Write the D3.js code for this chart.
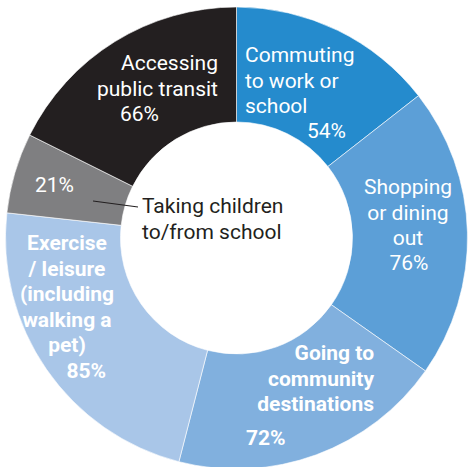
<!DOCTYPE html>
<html>
<head>
<meta charset="utf-8">
<script src="https://cdn.jsdelivr.net/npm/d3@7"></script>
<style>
  html, body { margin: 0; padding: 0; background: #ffffff; }
  svg { display: block; }
</style>
</head>
<body>
<svg id="chart" width="469" height="467"></svg>
<script>
// Trip purposes, clockwise from 12 o'clock
const categories = [
  "Commuting to work or school",
  "Shopping or dining out",
  "Going to community destinations",
  "Exercise / leisure (including walking a pet)",
  "Taking children to/from school",
  "Accessing public transit"
];
const values = [54, 76, 72, 85, 21, 66];
const colors = ["#258bcd", "#5c9fd7", "#81b0de", "#a9c6e8", "#7f7f81", "#231f20"];

// Text lines drawn for each slice (the percentage is added separately)
const labelLines = [
  ["Commuting", "to work or", "school"],
  ["Shopping", "or dining", "out"],
  ["Going to", "community", "destinations"],
  ["Exercise", "/ leisure", "(including", "walking a", "pet)"],
  [],
  ["Accessing", "public transit"]
];

const svg = d3.select("#chart");
const cx = 236.5, cy = 238, outerR = 231, innerR = 116;

const pie = d3.pie().value(d => d).sort(null).startAngle(0).endAngle(2 * Math.PI);
const arc = d3.arc().innerRadius(innerR).outerRadius(outerR);

const g = svg.append("g").attr("transform", `translate(${cx},${cy})`);
g.selectAll("path.slice")
  .data(pie(values))
  .join("path")
  .attr("class", "slice")
  .attr("d", arc)
  .attr("fill", (d, i) => colors[i])
  .attr("stroke", "#ffffff")
  .attr("stroke-width", 0.6);

// Label placement for each slice: name block and percentage
const layout = [
  { x: 245, y: 62, anchor: "start", weight: 400, pct: { x: 346, y: 138, anchor: "end" } },
  { x: 408, y: 194, anchor: "middle", weight: 400, pct: { x: 409, y: 270, anchor: "middle" } },
  { x: 374, y: 360, anchor: "end", weight: 700, pct: { x: 246, y: 445, anchor: "start" } },
  { x: 67, y: 250, anchor: "middle", weight: 700, pct: { x: 106, y: 378, anchor: "end" } },
  { x: 0, y: 0, anchor: "start", weight: 400, pct: { x: 35, y: 192, anchor: "start" } },
  { x: 218, y: 70, anchor: "end", weight: 400, pct: { x: 159, y: 121, anchor: "end" } }
];
const lineH = 25.5;
const fontSize = 21;
const font = "Roboto, 'Open Sans', sans-serif";

labelLines.forEach((lines, i) => {
  const L = layout[i];
  const t = svg.append("text")
    .attr("font-family", font)
    .attr("font-size", fontSize)
    .attr("font-weight", L.weight)
    .attr("fill", "#ffffff")
    .attr("text-anchor", L.anchor);
  lines.forEach((ln, k) => {
    t.append("tspan").attr("x", L.x).attr("y", L.y + k * lineH).text(ln);
  });
  svg.append("text")
    .attr("font-family", font)
    .attr("font-size", fontSize)
    .attr("font-weight", L.weight)
    .attr("fill", "#ffffff")
    .attr("text-anchor", L.pct.anchor)
    .attr("x", L.pct.x)
    .attr("y", L.pct.y)
    .text(values[i] + "%");
});

// Callout for the narrow slice, written in the hole of the ring
const calloutLines = ["Taking children", "to/from school"];
svg.append("line")
  .attr("x1", 93).attr("y1", 201)
  .attr("x2", 138).attr("y2", 207)
  .attr("stroke", "#231f20")
  .attr("stroke-width", 1.2);
const ct = svg.append("text")
  .attr("font-family", font)
  .attr("font-size", fontSize)
  .attr("fill", "#231f20")
  .attr("text-anchor", "start");
calloutLines.forEach((ln, k) => {
  ct.append("tspan").attr("x", 142).attr("y", 213 + k * lineH).text(ln);
});
</script>
</body>
</html>
